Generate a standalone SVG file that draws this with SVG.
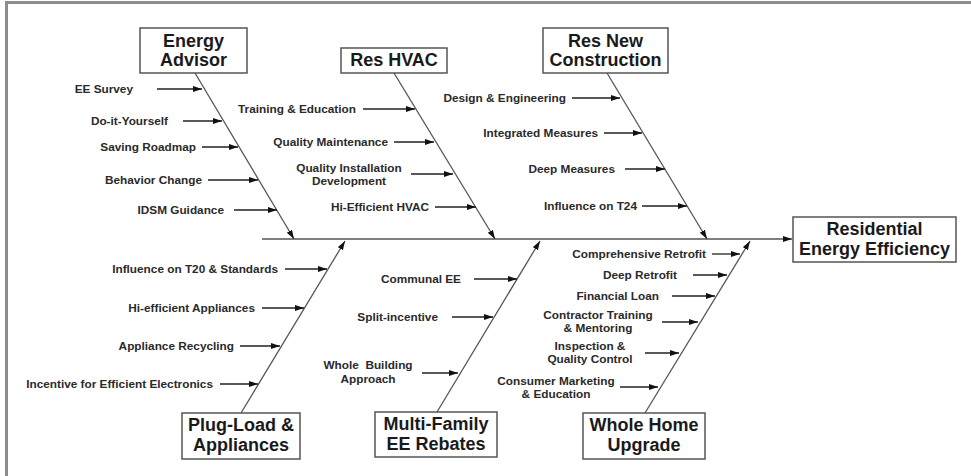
<svg xmlns="http://www.w3.org/2000/svg" width="971" height="476" viewBox="0 0 971 476">
<style>
.box{fill:#fff;stroke:#555;stroke-width:1.5}
.big{font-family:"Liberation Sans",Arial,sans-serif;font-weight:bold;font-size:18px;fill:#1a1a1a;text-anchor:middle}
.lbl{font-family:"Liberation Sans",Arial,sans-serif;font-weight:bold;font-size:11.8px;fill:#2a2a2a}
.e{text-anchor:end}
.m{text-anchor:middle}
.sp{stroke:#555;stroke-width:1.3;fill:none}
.ar{stroke:#222;stroke-width:1.3;fill:none}
</style>
<defs>
<marker id="ah" markerUnits="userSpaceOnUse" markerWidth="10" markerHeight="8" refX="9" refY="3" orient="auto">
<path d="M0,0 L9,3 L0,6 z" fill="#111"/>
</marker>
</defs>
<rect width="971" height="476" fill="#fff"/>
<path d="M6.5,476 V2.5 H971" fill="none" stroke="#8c8c8c" stroke-width="3"/>

<g id="connectors">
<line class="sp" x1="262" y1="239" x2="792" y2="239" marker-end="url(#ah)"/>
<line class="sp" x1="195" y1="73" x2="294" y2="239" marker-end="url(#ah)"/>
<line class="sp" x1="394" y1="73" x2="495" y2="239" marker-end="url(#ah)"/>
<line class="sp" x1="607" y1="73" x2="707" y2="239" marker-end="url(#ah)"/>
<line class="sp" x1="241" y1="413" x2="345" y2="241" marker-end="url(#ah)"/>
<line class="sp" x1="437" y1="412" x2="540" y2="241" marker-end="url(#ah)"/>
<line class="sp" x1="645" y1="413" x2="750" y2="241" marker-end="url(#ah)"/>

<line class="ar" x1="157" y1="89" x2="202" y2="89" marker-end="url(#ah)"/>
<line class="ar" x1="183" y1="121" x2="222" y2="121" marker-end="url(#ah)"/>
<line class="ar" x1="202" y1="147" x2="238" y2="147" marker-end="url(#ah)"/>
<line class="ar" x1="208" y1="180" x2="258" y2="180" marker-end="url(#ah)"/>
<line class="ar" x1="234" y1="210" x2="277" y2="210" marker-end="url(#ah)"/>

<line class="ar" x1="363" y1="109" x2="415" y2="109" marker-end="url(#ah)"/>
<line class="ar" x1="394" y1="142" x2="434" y2="142" marker-end="url(#ah)"/>
<line class="ar" x1="411" y1="174" x2="453" y2="174" marker-end="url(#ah)"/>
<line class="ar" x1="435" y1="207" x2="476" y2="207" marker-end="url(#ah)"/>

<line class="ar" x1="572" y1="98" x2="620" y2="98" marker-end="url(#ah)"/>
<line class="ar" x1="604" y1="133" x2="642" y2="133" marker-end="url(#ah)"/>
<line class="ar" x1="625" y1="169" x2="665" y2="169" marker-end="url(#ah)"/>
<line class="ar" x1="642" y1="206" x2="687" y2="206" marker-end="url(#ah)"/>

<line class="ar" x1="285" y1="269" x2="327" y2="269" marker-end="url(#ah)"/>
<line class="ar" x1="262" y1="308" x2="304" y2="308" marker-end="url(#ah)"/>
<line class="ar" x1="240" y1="346" x2="280" y2="346" marker-end="url(#ah)"/>
<line class="ar" x1="220" y1="384" x2="258" y2="384" marker-end="url(#ah)"/>

<line class="ar" x1="474" y1="279" x2="517" y2="279" marker-end="url(#ah)"/>
<line class="ar" x1="452" y1="317" x2="493" y2="317" marker-end="url(#ah)"/>
<line class="ar" x1="422" y1="373" x2="458" y2="373" marker-end="url(#ah)"/>

<line class="ar" x1="712" y1="254" x2="740" y2="254" marker-end="url(#ah)"/>
<line class="ar" x1="693" y1="275" x2="727" y2="275" marker-end="url(#ah)"/>
<line class="ar" x1="672" y1="296" x2="715" y2="296" marker-end="url(#ah)"/>
<line class="ar" x1="662" y1="322" x2="698" y2="322" marker-end="url(#ah)"/>
<line class="ar" x1="645" y1="353" x2="679" y2="353" marker-end="url(#ah)"/>
<line class="ar" x1="620" y1="387" x2="658" y2="387" marker-end="url(#ah)"/>
</g>

<g id="energy-advisor">
<rect class="box" x="140" y="28" width="107" height="45"/>
<text class="big" x="193.5" y="47">Energy</text>
<text class="big" x="193.5" y="66">Advisor</text>
<text class="lbl e" x="133" y="93">EE Survey</text>
<text class="lbl e" x="168" y="125">Do-it-Yourself</text>
<text class="lbl e" x="196" y="151">Saving Roadmap</text>
<text class="lbl e" x="202" y="184">Behavior Change</text>
<text class="lbl e" x="224" y="214">IDSM Guidance</text>
</g>

<g id="res-hvac">
<rect class="box" x="341" y="48" width="106" height="25"/>
<text class="big" x="394" y="66">Res HVAC</text>
<text class="lbl e" x="356" y="113">Training &amp; Education</text>
<text class="lbl e" x="388" y="146">Quality Maintenance</text>
<text class="lbl m" x="349" y="172">Quality Installation</text>
<text class="lbl m" x="349" y="185">Development</text>
<text class="lbl e" x="429" y="211">Hi-Efficient HVAC</text>
</g>

<g id="res-new-construction">
<rect class="box" x="543" y="28" width="125" height="45"/>
<text class="big" x="605.5" y="47">Res New</text>
<text class="big" x="605.5" y="66">Construction</text>
<text class="lbl e" x="566" y="102">Design &amp; Engineering</text>
<text class="lbl e" x="598" y="137">Integrated Measures</text>
<text class="lbl e" x="615" y="173">Deep Measures</text>
<text class="lbl e" x="637" y="210">Influence on T24</text>
</g>

<g id="residential-energy-efficiency">
<rect class="box" x="793" y="217" width="163" height="45"/>
<text class="big" x="874.5" y="235">Residential</text>
<text class="big" x="874.5" y="255">Energy Efficiency</text>
</g>

<g id="plug-load">
<rect class="box" x="182" y="413" width="118" height="46"/>
<text class="big" x="241" y="431">Plug-Load &amp;</text>
<text class="big" x="241" y="451">Appliances</text>
<text class="lbl e" x="278" y="273">Influence on T20 &amp; Standards</text>
<text class="lbl e" x="255" y="312">Hi-efficient Appliances</text>
<text class="lbl e" x="234" y="350">Appliance Recycling</text>
<text class="lbl e" x="213" y="388">Incentive for Efficient Electronics</text>
</g>

<g id="multi-family">
<rect class="box" x="375" y="412" width="122" height="45"/>
<text class="big" x="436" y="430">Multi-Family</text>
<text class="big" x="436" y="450">EE Rebates</text>
<text class="lbl e" x="461" y="283">Communal EE</text>
<text class="lbl e" x="438" y="321">Split-incentive</text>
<text class="lbl m" x="368" y="369" xml:space="preserve">Whole  Building</text>
<text class="lbl m" x="368" y="383">Approach</text>
</g>

<g id="whole-home-upgrade">
<rect class="box" x="583" y="413" width="122" height="46"/>
<text class="big" x="644" y="431">Whole Home</text>
<text class="big" x="644" y="451">Upgrade</text>
<text class="lbl e" x="706" y="258">Comprehensive Retrofit</text>
<text class="lbl e" x="677" y="279">Deep Retrofit</text>
<text class="lbl e" x="659" y="300">Financial Loan</text>
<text class="lbl m" x="598" y="319">Contractor Training</text>
<text class="lbl m" x="598" y="332">&amp; Mentoring</text>
<text class="lbl m" x="590" y="350">Inspection &amp;</text>
<text class="lbl m" x="590" y="363">Quality Control</text>
<text class="lbl m" x="556" y="385">Consumer Marketing</text>
<text class="lbl m" x="556" y="398">&amp; Education</text>
</g>
</svg>
